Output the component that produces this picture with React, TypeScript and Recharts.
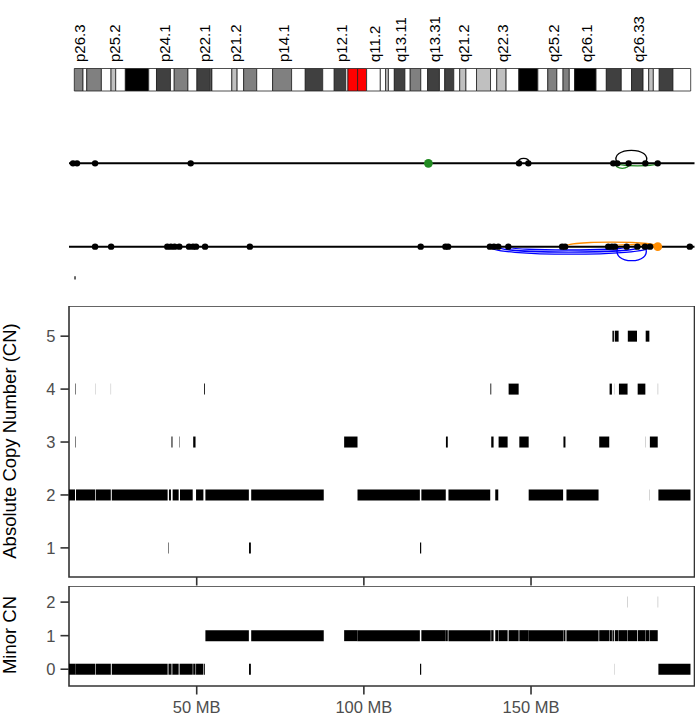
import React from 'react';
import { ComposedChart, XAxis, YAxis, Scatter, Line, ReferenceLine, ReferenceArea } from 'recharts';

const FONT = '"Liberation Sans", Arial, Helvetica, sans-serif';

// chr3 cytobands (MB): name, start, end, stain
const bands: [string, number, number, string][] = [
  ['p26.3', 0, 2.8, 'gpos50'], ['p26.2', 2.8, 4.0, 'gneg'], ['p26.1', 4.0, 8.7, 'gpos50'],
  ['p25.3', 8.7, 11.8, 'gneg'], ['p25.2', 11.8, 13.3, 'gpos25'], ['p25.1', 13.3, 16.4, 'gneg'],
  ['p24.3', 16.4, 23.9, 'gpos100'], ['p24.2', 23.9, 26.4, 'gneg'], ['p24.1', 26.4, 30.9, 'gpos75'],
  ['p23', 30.9, 32.1, 'gneg'], ['p22.3', 32.1, 36.5, 'gpos50'], ['p22.2', 36.5, 39.4, 'gneg'],
  ['p22.1', 39.4, 43.7, 'gpos75'], ['p21.33', 43.7, 44.1, 'gneg'], ['p21.32', 44.1, 44.2, 'gpos50'],
  ['p21.31', 44.2, 50.6, 'gneg'], ['p21.2', 50.6, 52.3, 'gpos25'], ['p21.1', 52.3, 54.4, 'gneg'],
  ['p14.3', 54.4, 58.6, 'gpos50'], ['p14.2', 58.6, 63.7, 'gneg'], ['p14.1', 63.7, 69.8, 'gpos50'],
  ['p13', 69.8, 74.2, 'gneg'], ['p12.3', 74.2, 79.8, 'gpos75'], ['p12.2', 79.8, 83.5, 'gneg'],
  ['p12.1', 83.5, 87.2, 'gpos75'], ['p11.2', 87.2, 87.9, 'gneg'], ['p11.1', 87.9, 91.0, 'acen'],
  ['q11.1', 91.0, 93.9, 'acen'], ['q11.2', 93.9, 98.3, 'gvar'], ['q12.1', 98.3, 100.0, 'gneg'],
  ['q12.2', 100.0, 100.9, 'gpos25'], ['q12.3', 100.9, 102.8, 'gneg'], ['q13.11', 102.8, 106.2, 'gpos75'],
  ['q13.12', 106.2, 107.9, 'gneg'], ['q13.13', 107.9, 111.3, 'gpos50'], ['q13.2', 111.3, 113.5, 'gneg'],
  ['q13.31', 113.5, 117.3, 'gpos75'], ['q13.32', 117.3, 119.0, 'gneg'], ['q13.33', 119.0, 121.9, 'gpos75'],
  ['q21.1', 121.9, 123.8, 'gneg'], ['q21.2', 123.8, 125.8, 'gpos25'], ['q21.3', 125.8, 129.2, 'gneg'],
  ['q22.1', 129.2, 133.7, 'gpos25'], ['q22.2', 133.7, 135.7, 'gneg'], ['q22.3', 135.7, 138.7, 'gpos25'],
  ['q23', 138.7, 142.8, 'gneg'], ['q24', 142.8, 148.9, 'gpos100'], ['q25.1', 148.9, 152.1, 'gneg'],
  ['q25.2', 152.1, 155.0, 'gpos50'], ['q25.31', 155.0, 157.0, 'gneg'], ['q25.32', 157.0, 159.0, 'gpos50'],
  ['q25.33', 159.0, 160.7, 'gneg'], ['q26.1', 160.7, 167.6, 'gpos100'], ['q26.2', 167.6, 170.9, 'gneg'],
  ['q26.31', 170.9, 175.7, 'gpos75'], ['q26.32', 175.7, 179.0, 'gneg'], ['q26.33', 179.0, 182.7, 'gpos75'],
  ['q27.1', 182.7, 184.5, 'gneg'], ['q27.2', 184.5, 186.0, 'gpos25'], ['q27.3', 186.0, 187.9, 'gneg'],
  ['q28', 187.9, 192.3, 'gpos75'], ['q29', 192.3, 198.0, 'gneg'],
];
const bandLabels = ['p26.3', 'p25.2', 'p24.1', 'p22.1', 'p21.2', 'p14.1', 'p12.1', 'q11.2',
  'q13.11', 'q13.31', 'q21.2', 'q22.3', 'q25.2', 'q26.1', 'q26.33'];

// breakpoints (MB) on the two SV tracks
const track1Dots = [13.0, 14.2, 19.6, 48.2, 146.4, 149.2, 174.6, 175.8, 179.2, 184.2, 187.9];
const track1Green = [119.3];
const track2Dots = [19.6, 24.4, 41.2, 42.3, 43.4, 44.8, 47.7, 48.9, 49.8, 52.5, 65.9,
  117.0, 124.4, 125.2, 137.7, 138.9, 140.2, 143.2, 159.3, 160.2, 173.1, 174.2, 175.1,
  178.6, 181.8, 184.1, 185.6, 197.5];
const track2Orange = [187.9];

// arcs: start, end, track, height (track units, negative = below the line)
const blackArcs: [number, number, number, number][] = [
  [146.4, 149.2, 2, 0.06], [175.8, 184.2, 2, 0.156],
];
const greenArcs: [number, number, number, number][] = [
  [175.6, 179.0, 2, -0.06], [175.8, 187.9, 2, -0.03],
];
const blueArcs: [number, number, number, number][] = [
  [137.7, 185.6, 1, -0.09], [140.2, 182.5, 1, -0.065], [143.2, 178.6, 1, -0.04],
  [176.1, 184.1, 1, -0.168],
];
const orangeArcs: [number, number, number, number][] = [
  [160.2, 187.9, 1, 0.054], [173.1, 187.9, 1, 0.024],
];

// copy number segments: start, end, total CN, minor CN
const segments: [number, number, number, number][] = [
  [11.8, 13.6, 2, 0], [13.65, 13.8, 4, 0], [13.65, 13.8, 3, 0], [13.9, 19.65, 2, 0],
  [19.7, 19.74, 4, 0], [19.85, 24.3, 2, 0], [24.33, 24.37, 4, 0], [24.6, 41.3, 2, 0],
  [41.45, 41.6, 1, 0], [41.7, 42.3, 2, 0], [42.45, 42.75, 3, 0], [42.8, 44.6, 2, 0],
  [44.8, 44.92, 3, 0], [45.0, 48.8, 2, 0], [48.95, 49.65, 3, 0], [49.8, 52.0, 2, 0],
  [52.2, 52.45, 4, 0], [52.6, 65.6, 2, 1], [65.65, 66.2, 1, 0], [66.3, 88.0, 2, 1],
  [94.1, 98.1, 3, 1], [98.1, 116.75, 2, 1], [116.8, 117.15, 1, 0], [117.2, 124.5, 2, 1],
  [124.55, 125.1, 3, 1], [125.3, 137.8, 2, 1], [137.85, 138.1, 4, 1], [138.1, 138.8, 3, 1],
  [139.3, 140.2, 2, 1], [140.3, 143.0, 3, 1], [143.3, 146.3, 4, 1], [146.5, 149.3, 3, 1],
  [149.3, 159.6, 2, 1], [159.7, 160.3, 3, 1], [160.6, 170.2, 2, 1], [170.4, 173.4, 3, 1],
  [173.5, 174.2, 4, 1], [174.35, 174.8, 5, 1], [175.0, 175.04, 4, 0], [175.05, 176.2, 5, 1],
  [176.3, 178.85, 4, 1], [178.85, 178.9, 4, 2], [178.95, 181.7, 5, 1], [181.9, 184.2, 4, 1],
  [184.22, 184.27, 3, 1], [184.3, 185.4, 5, 1], [185.45, 185.5, 2, 1], [185.55, 187.9, 3, 1],
  [187.95, 188.0, 4, 2], [188.1, 197.7, 2, 0],
];

const cnTicks = [1, 2, 3, 4, 5];
const minorTicks = [0, 1, 2];
const mbTicks = [50, 100, 150];

const STAIN: Record<string, string> = {
  gneg: '#ffffff', gpos25: '#c0c0c0', gpos50: '#808080', gpos75: '#404040',
  gpos100: '#000000', acen: '#ff0000', gvar: '#ffffff',
};
const X_DOMAIN: [number, number] = [11.8, 198.9];
const CHR_LEN = 198.0;
const AXIS_GREY = '#333333';
const TICK_TEXT = { fill: '#4d4d4d', fontSize: 16.5, fontFamily: FONT };

const arcShape = (color: string, up: boolean) => (p: any) => {
  const { x, y, width, height } = p;
  const base = up ? y + height : y;
  const e = height > width * 0.3 ? width * 0.35 : 0;
  const c = (height / 0.75) * (up ? -1 : 1);
  return (
    <path
      d={`M${x},${base} C${x - e},${base + c} ${x + width + e},${base + c} ${x + width},${base}`}
      fill="none" stroke={color} strokeWidth={1.3}
    />
  );
};

const renderArcs = (arcs: [number, number, number, number][], color: string, key: string) =>
  arcs.map(([s, e, t, h], i) => (
    <ReferenceArea key={key + i} x1={s} x2={e} y1={t} y2={t + h} ifOverflow="visible"
      shape={arcShape(color, h > 0)} />
  ));

const dot = (r: number, color: string) => (p: any) =>
  <circle cx={p.cx} cy={p.cy} r={r} fill={color} />;

// one Line per segment, two points each
const renderSegments = (level: (s: [number, number, number, number]) => number) =>
  segments.map((seg, i) => (
    <Line key={i} data={[{ x: seg[0], v: level(seg) }, { x: seg[1], v: level(seg) }]} dataKey="v"
      stroke="#000" strokeWidth={11} dot={false} activeDot={false} isAnimationActive={false} />
  ));

const Ideogram = () => {
  const labelPoints = bands
    .filter((b) => bandLabels.includes(b[0]))
    .map(([name, s, e]) => ({ x: (s + e) / 2, y: 1, name }));
  return (
    <ComposedChart width={695} height={100} margin={{ top: 68.5, right: 4.3, bottom: 9, left: 74.3 }} data={labelPoints}>
      <XAxis type="number" dataKey="x" domain={[0, CHR_LEN]} hide />
      <YAxis type="number" dataKey="y" domain={[0, 1]} hide />
      {bands.map(([name, s, e, stain]) => (
        <ReferenceArea key={name} x1={s} x2={e} y1={0} y2={1} fill={STAIN[stain]} fillOpacity={1}
          stroke="#222" strokeWidth={0.8} ifOverflow="visible" />
      ))}
      <Scatter data={labelPoints} isAnimationActive={false}
        shape={(p: any) => (
          <text transform={`translate(${p.cx + 6.5},${p.cy - 6.5}) rotate(-90)`} fontSize={15}
            fontFamily={FONT} fill="#000">{p.payload.name}</text>
        )} />
    </ComposedChart>
  );
};

const Tracks = () => (
  <ComposedChart width={695} height={170} margin={{ top: 0, right: 0.5, bottom: 0, left: 69 }}>
    <XAxis type="number" dataKey="x" domain={X_DOMAIN} hide />
    <YAxis type="number" dataKey="y" domain={[0.48, 2.52]} hide />
    <ReferenceLine y={2} stroke="#000" strokeWidth={2} ifOverflow="visible" />
    <ReferenceLine y={1} stroke="#000" strokeWidth={2} ifOverflow="visible" />
    {renderArcs(blackArcs, '#000000', 'k')}
    {renderArcs(greenArcs, '#228b22', 'g')}
    {renderArcs(blueArcs, '#0000ff', 'b')}
    {renderArcs(orangeArcs, '#ff8c00', 'o')}
    <ReferenceLine segment={[{ x: 13.6, y: 0.605 }, { x: 13.6, y: 0.645 }]} stroke="#000" strokeWidth={1.2} ifOverflow="visible" />
    <Scatter data={track1Dots.map((x) => ({ x, y: 2 }))} isAnimationActive={false} shape={dot(3.2, '#000')} />
    <Scatter data={track2Dots.map((x) => ({ x, y: 1 }))} isAnimationActive={false} shape={dot(3.2, '#000')} />
    <Scatter data={track1Green.map((x) => ({ x, y: 2 }))} isAnimationActive={false} shape={dot(4.4, '#228b22')} />
    <Scatter data={track2Orange.map((x) => ({ x, y: 1 }))} isAnimationActive={false} shape={dot(4.4, '#ff8c00')} />
  </ComposedChart>
);

const CNPanel = () => (
  <ComposedChart width={695} height={281} margin={{ top: 0, right: 0.5, bottom: 0, left: 0 }}>
    <XAxis type="number" dataKey="x" domain={X_DOMAIN} ticks={mbTicks} tickFormatter={() => ''} height={10}
      tickSize={8.5} axisLine={false} tickLine={{ stroke: AXIS_GREY, strokeWidth: 1.6 }} />
    <YAxis type="number" domain={[0.45, 5.57]} ticks={cnTicks} width={69} tickSize={8.5} tickMargin={5}
      axisLine={false} tickLine={{ stroke: AXIS_GREY, strokeWidth: 1.6 }} tick={TICK_TEXT} />
    <ReferenceArea x1={X_DOMAIN[0]} x2={X_DOMAIN[1]} y1={0.45} y2={5.57} fill="none" stroke={AXIS_GREY}
      strokeWidth={1.6} ifOverflow="visible" />
    {renderSegments((s) => s[2])}
  </ComposedChart>
);

const MinorPanel = () => (
  <ComposedChart width={695} height={134} margin={{ top: 0, right: 0.5, bottom: 0, left: 0 }}>
    <XAxis type="number" dataKey="x" domain={X_DOMAIN} ticks={mbTicks} tickFormatter={(v) => `${v} MB`} height={34}
      tickSize={8.5} tickMargin={7} axisLine={false} tickLine={{ stroke: AXIS_GREY, strokeWidth: 1.6 }} tick={TICK_TEXT} />
    <YAxis type="number" domain={[-0.5, 2.48]} ticks={minorTicks} width={69} tickSize={8.5} tickMargin={5}
      axisLine={false} tickLine={{ stroke: AXIS_GREY, strokeWidth: 1.6 }} tick={TICK_TEXT} />
    <ReferenceArea x1={X_DOMAIN[0]} x2={X_DOMAIN[1]} y1={-0.5} y2={2.48} fill="none" stroke={AXIS_GREY}
      strokeWidth={1.6} ifOverflow="visible" />
    {renderSegments((s) => s[3])}
  </ComposedChart>
);

export default function App() {
  return (
    <div style={{ position: 'absolute', left: 0, top: 0, width: 695, height: 720, background: '#fff' }}>
      <div style={{ position: 'absolute', left: 0, top: 0 }}><Ideogram /></div>
      <div style={{ position: 'absolute', left: 0, top: 120 }}><Tracks /></div>
      <div style={{ position: 'absolute', left: 0, top: 306 }}><CNPanel /></div>
      <div style={{ position: 'absolute', left: 0, top: 586 }}><MinorPanel /></div>
      <svg width={695} height={720} style={{ position: 'absolute', left: 0, top: 0, pointerEvents: 'none' }}>
        <text transform="translate(16,441) rotate(-90)" textAnchor="middle" fontSize={18.5} fontFamily={FONT} fill="#000">
          Absolute Copy Number (CN)
        </text>
        <text transform="translate(16,635) rotate(-90)" textAnchor="middle" fontSize={18.5} fontFamily={FONT} fill="#000">
          Minor CN
        </text>
      </svg>
    </div>
  );
}
